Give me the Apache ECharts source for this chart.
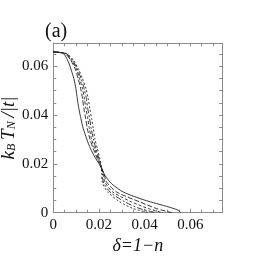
<!DOCTYPE html>
<html><head><meta charset="utf-8">
<script src="https://cdn.jsdelivr.net/npm/echarts@6/dist/echarts.min.js"></script>
<style>html,body{margin:0;padding:0;background:#fff}#c{width:267px;height:258px}</style>
</head><body><div id="c"></div>
<script>
// Data: [delta, kB*TN/|t|] pairs
const solid = [[0,0.0659],[0.0044,0.0652],[0.0066,0.0618],[0.008,0.058],[0.009,0.0549],[0.0099,0.0508],[0.0105,0.0467],[0.0112,0.0426],[0.0121,0.0385],[0.0131,0.0345],[0.0146,0.0303],[0.0163,0.0262],[0.0182,0.0228],[0.0204,0.0194],[0.0226,0.0153],[0.0255,0.0119],[0.0306,0.0085],[0.0379,0.0058],[0.0438,0.0041],[0.0496,0.0026],[0.0547,0.001],[0.0559,0]];
const dash1 = [[0,0.0659],[0.0051,0.0652],[0.0076,0.0625],[0.0095,0.0591],[0.0109,0.0549],[0.012,0.0508],[0.0128,0.0467],[0.0134,0.0426],[0.0142,0.0385],[0.0149,0.0345],[0.016,0.0303],[0.0175,0.0262],[0.0193,0.0221],[0.0208,0.0192],[0.0222,0.016],[0.0233,0.0126],[0.0277,0.0085],[0.0379,0.0044],[0.0452,0.0017],[0.052,0]];
const dash2 = [[0,0.0659],[0.0053,0.0652],[0.008,0.0625],[0.01,0.0591],[0.0115,0.0549],[0.0128,0.0508],[0.0136,0.0467],[0.0143,0.0426],[0.0151,0.0385],[0.0158,0.0345],[0.0167,0.0303],[0.0181,0.0262],[0.0197,0.0221],[0.0208,0.0192],[0.0218,0.016],[0.0226,0.0126],[0.026,0.0085],[0.0343,0.0044],[0.0416,0.0017],[0.048,0]];
const dash3 = [[0,0.0659],[0.0056,0.0652],[0.0084,0.0625],[0.0104,0.0591],[0.0122,0.0549],[0.0135,0.0508],[0.0145,0.0467],[0.0151,0.0426],[0.0159,0.0385],[0.0166,0.0345],[0.0175,0.0303],[0.0187,0.0262],[0.02,0.0221],[0.0209,0.0192],[0.0215,0.016],[0.0219,0.0126],[0.0248,0.0085],[0.0314,0.0044],[0.0379,0.0017],[0.045,0]];
const dash4 = [[0,0.0659],[0.0058,0.0652],[0.0088,0.0625],[0.0109,0.0591],[0.0128,0.0549],[0.0143,0.0508],[0.0153,0.0467],[0.016,0.0426],[0.0168,0.0385],[0.0175,0.0345],[0.0182,0.0303],[0.0193,0.0262],[0.0204,0.0221],[0.021,0.0192],[0.0212,0.016],[0.0214,0.0126],[0.0238,0.0085],[0.0292,0.0044],[0.035,0.0017],[0.042,0]];
const xTicks = [0, 0.02, 0.04, 0.06];
const yTicks = [0, 0.02, 0.04, 0.06];

const XMAX = 0.074, YMAX = 0.0694;
const serif = '"Liberation Serif","DejaVu Serif",serif';
const gray = '#8a8a8a';
const fmt = v => v === 0 ? '0' : v.toFixed(2);

function minorAxis(pos, max) {
  return {
    type: 'value', position: pos, min: 0, max: max, interval: 0.005,
    axisLine: { show: true, onZero: false, lineStyle: { color: gray, width: 1 } },
    axisTick: { show: true, inside: true, length: 3, lineStyle: { color: gray } },
    axisLabel: { show: false }, splitLine: { show: false }
  };
}
const chart = echarts.init(document.getElementById('c'), null, { renderer: 'canvas' });
const lineStyle = (t) => ({ color: '#222', width: 0.9, type: t });
const mkSeries = (d, t) => ({ type: 'line', data: d, showSymbol: false, lineStyle: lineStyle(t), smooth: 0.25 });
chart.setOption({
  animation: false,
  grid: { left: 53.3, right: 44.7, top: 43.3, bottom: 45.3, containLabel: false, outerBoundsMode: 'none' },
  title: { text: '(a)', left: 40, top: 17, textStyle: { fontFamily: serif, fontSize: 20, fontWeight: 'normal', color: '#111' } },
  xAxis: [
    { type: 'value', position: 'bottom', min: 0, max: XMAX, interval: 0.02,
      axisLine: { show: true, onZero: false, lineStyle: { color: gray } },
      axisTick: { show: true, inside: true, length: 4, lineStyle: { color: gray } },
      axisLabel: { fontFamily: serif, fontSize: 15, color: '#111', margin: 5, showMaxLabel: false,
        formatter: v => xTicks.some(t => Math.abs(t - v) < 1e-9) ? fmt(v) : '' },
      splitLine: { show: false },
      name: 'δ=1−n', nameLocation: 'middle', nameGap: 25, nameMoveOverlap: false,
      nameTextStyle: { fontFamily: serif, fontSize: 18, fontStyle: 'italic', color: '#111' } },
    minorAxis('bottom', XMAX), minorAxis('top', XMAX)
  ],
  yAxis: [
    { type: 'value', position: 'left', min: 0, max: YMAX, interval: 0.02,
      axisLine: { show: true, onZero: false, lineStyle: { color: gray } },
      axisTick: { show: true, inside: true, length: 4, lineStyle: { color: gray } },
      axisLabel: { fontFamily: serif, fontSize: 15, color: '#111', margin: 5, showMaxLabel: false,
        formatter: v => yTicks.some(t => Math.abs(t - v) < 1e-9) ? fmt(v) : '' },
      splitLine: { show: false },
      name: '{i|k}{s|B}{i|\u2009T}{s|N}{i|\u2009/|t|}', nameLocation: 'middle', nameGap: 35, nameRotate: 90, nameMoveOverlap: false,
      nameTextStyle: { fontFamily: serif, fontSize: 19, fontStyle: 'italic', color: '#111',
        rich: { i: { fontFamily: serif, fontSize: 19, fontStyle: 'italic', color: '#111', verticalAlign: 'bottom', lineHeight: 24 },
                s: { fontFamily: serif, fontSize: 12, fontStyle: 'italic', color: '#111', verticalAlign: 'bottom', lineHeight: 17 } } } },
    minorAxis('left', YMAX), minorAxis('right', YMAX)
  ],
  series: [
    mkSeries(solid, 'solid'),
    mkSeries(dash1, [5, 2]),
    mkSeries(dash2, [3, 2]),
    mkSeries(dash3, [6, 2, 2, 2]),
    mkSeries(dash4, [2, 2])
  ]
});
</script></body></html>
